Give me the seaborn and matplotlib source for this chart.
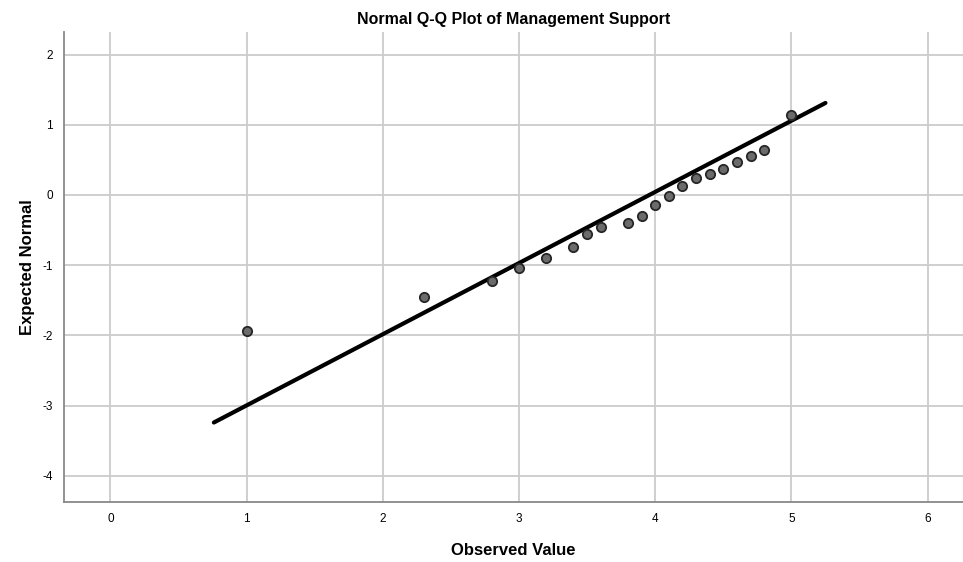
import numpy as np
import pandas as pd
import seaborn as sns
import matplotlib
matplotlib.use("Agg")
import matplotlib.pyplot as plt

# observed values and their expected normal scores
observed = [1.0, 2.3, 2.8, 3.0, 3.2, 3.4, 3.5, 3.6, 3.8, 3.9,
            4.0, 4.1, 4.2, 4.3, 4.4, 4.5, 4.6, 4.7, 4.8, 5.0]
expected = [-1.94, -1.45, -1.22, -1.04, -0.90, -0.74, -0.55, -0.46, -0.40, -0.30,
            -0.14, -0.01, 0.13, 0.24, 0.30, 0.37, 0.47, 0.55, 0.64, 1.14]

# reference line end points
line_x = [0.76, 5.25]
line_y = [-3.24, 1.31]

x_ticks = [0, 1, 2, 3, 4, 5, 6]
y_ticks = [-4, -3, -2, -1, 0, 1, 2]

df = pd.DataFrame({"Observed Value": observed, "Expected Normal": expected})
df_line = pd.DataFrame({"x": line_x, "y": line_y})

sns.set_style("white")
plt.rcParams['font.family'] = ['Liberation Sans', 'DejaVu Sans']
plt.rcParams['axes.unicode_minus'] = False

fig = plt.figure(figsize=(9.63, 5.62), dpi=100)
ax = fig.add_axes([0.0665, 0.107, 0.9335, 0.836])

# grid
for xv in x_ticks:
    ax.axvline(xv, color='#cccccc', lw=1.3, zorder=0)
for yv in y_ticks:
    ax.axhline(yv, color='#cccccc', lw=1.3, zorder=0)

sns.lineplot(data=df_line, x="x", y="y", color='black', lw=3, ax=ax, zorder=2)
sns.scatterplot(data=df, x="Observed Value", y="Expected Normal", s=45,
                color='#6b6b6b', edgecolor='#262626', linewidth=1.3, ax=ax, zorder=3)

ax.set_xlim(-0.34, 6.26)
ax.set_ylim(-4.37, 2.32)
ax.set_xticks(x_ticks)
ax.set_yticks(y_ticks)
ax.tick_params(axis='both', length=0, labelsize=8.5, colors='black', pad=8)

for side in ['top', 'right']:
    ax.spines[side].set_visible(False)
for side in ['left', 'bottom']:
    ax.spines[side].set_color('#888888')
    ax.spines[side].set_linewidth(1.3)

ax.set_xlabel("Observed Value", fontsize=12, fontweight='bold', labelpad=13, color='black')
ax.set_ylabel("Expected Normal", fontsize=12, fontweight='bold', labelpad=5, color='black')
ax.set_title("Normal Q-Q Plot of Management Support", fontsize=11.5, fontweight='bold',
             pad=6, color='black')

plt.savefig("out.png", dpi=100)
